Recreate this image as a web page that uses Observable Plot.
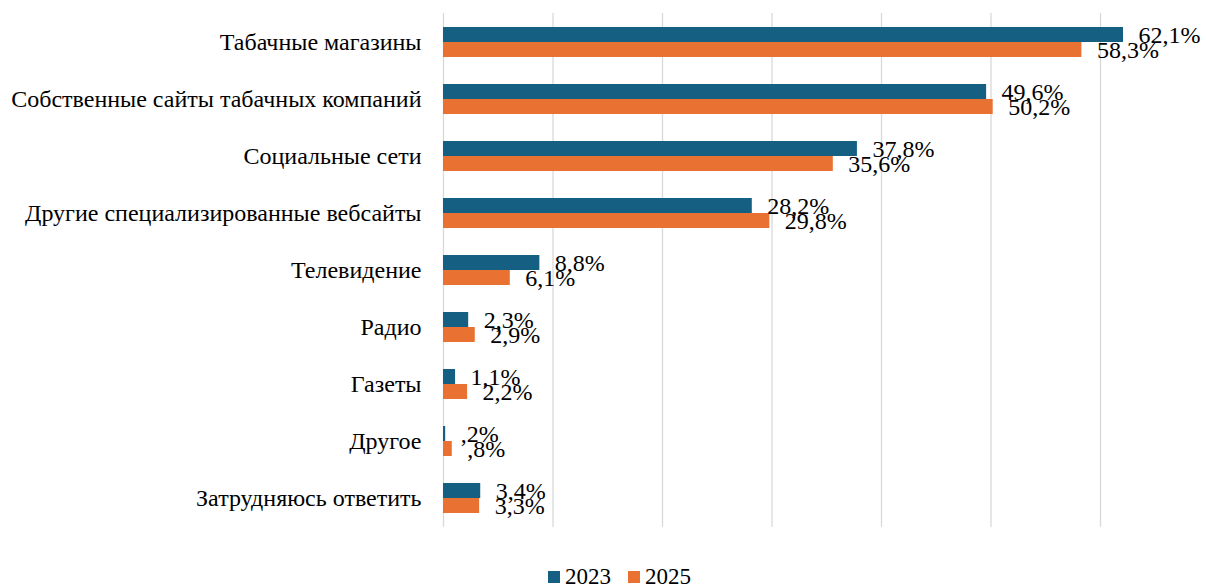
<!DOCTYPE html>
<html><head><meta charset="utf-8">
<script src="https://cdn.jsdelivr.net/npm/d3@7"></script>
<script src="https://cdn.jsdelivr.net/npm/@observablehq/plot@0.6"></script>
<style>
body{margin:0;background:#fff;font-family:"Liberation Serif","Times New Roman",serif;}
#wrap{position:relative;width:1206px;height:588px;overflow:hidden;}
#legend{position:absolute;left:548px;top:563px;display:flex;align-items:center;font-size:23px;color:#000;line-height:28px;}
.item{display:flex;align-items:center;margin-right:17px;}
.sw{width:12px;height:12px;margin-right:5px;}
svg text{font-family:"Liberation Serif","Times New Roman",serif;}
</style></head><body>
<div id="wrap"><div id="chart"></div><div id="legend"></div></div>
<script>
const categories = [
  "Табачные магазины",
  "Собственные сайты табачных компаний",
  "Социальные сети",
  "Другие специализированные вебсайты",
  "Телевидение",
  "Радио",
  "Газеты",
  "Другое",
  "Затрудняюсь ответить"
];
const values2023 = [62.1, 49.6, 37.8, 28.2, 8.8, 2.3, 1.1, 0.2, 3.4];
const values2025 = [58.3, 50.2, 35.6, 29.8, 6.1, 2.9, 2.2, 0.8, 3.3];
const years = ["2023", "2025"];
const colors = ["#156082", "#E97132"];
const xTicks = [0, 10, 20, 30, 40, 50, 60];

const rows2023 = categories.map((c, i) => ({category: c, year: years[0], value: values2023[i]}));
const rows2025 = categories.map((c, i) => ({category: c, year: years[1], value: values2025[i]}));

const fmt = v => {
  let s = d3.format(".1f")(v);
  if (v < 1) s = s.replace(/^0/, "");
  return s.replace(".", ",") + "%";
};

const font = "'Liberation Serif', 'Times New Roman', serif";

const chart = Plot.plot({
  width: 1206,
  height: 550,
  marginLeft: 443,
  marginRight: 0,
  marginTop: 13,
  marginBottom: 23,
  style: {fontFamily: font, fontSize: "24px", color: "#000", background: "#fff"},
  x: {domain: [0, 69.68], axis: null},
  y: {domain: categories, paddingInner: 0.475, paddingOuter: 0.2375, axis: null},
  marks: [
    Plot.gridX(xTicks, {stroke: "#d9d9d9", strokeOpacity: 1, strokeWidth: 1.3}),
    Plot.barX(rows2023, {x: "value", y: "category", fill: colors[0], insetBottom: 15}),
    Plot.barX(rows2025, {x: "value", y: "category", fill: colors[1], insetTop: 15}),
    Plot.text(rows2023, {x: "value", y: "category", text: d => fmt(d.value), dx: 15, dy: -7, textAnchor: "start", fontSize: 24, fontFamily: font, fill: "#000"}),
    Plot.text(rows2025, {x: "value", y: "category", text: d => fmt(d.value), dx: 15, dy: 8, textAnchor: "start", fontSize: 24, fontFamily: font, fill: "#000"}),
    Plot.axisY({tickSize: 0, tickPadding: 22, fontSize: 24, fontFamily: font, label: null})
  ]
});
document.getElementById("chart").appendChild(chart);

const legend = document.getElementById("legend");
years.forEach((y, i) => {
  const it = document.createElement("div");
  it.className = "item";
  const sw = document.createElement("div");
  sw.className = "sw";
  sw.style.background = colors[i];
  const t = document.createElement("span");
  t.textContent = y;
  it.appendChild(sw); it.appendChild(t);
  legend.appendChild(it);
});
</script>
</body></html>
